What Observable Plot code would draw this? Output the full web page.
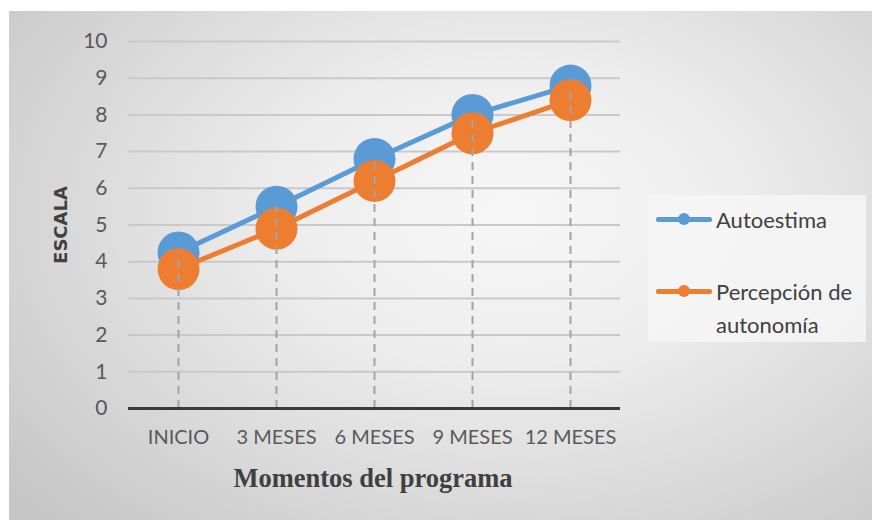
<!DOCTYPE html>
<html>
<head>
<meta charset="utf-8">
<script src="https://cdn.jsdelivr.net/npm/d3@7"></script>
<script src="https://cdn.jsdelivr.net/npm/@observablehq/plot@0.6"></script>
<style>
  html, body { margin: 0; padding: 0; background: #fff; }
  #wrap { position: relative; width: 872px; height: 520px; overflow: hidden; background: #fff; }
  #frame { position: absolute; left: 9px; top: 11px; width: 863px; height: 509px;
    background: radial-gradient(ellipse 75% 85% at 58% 40%, #f7f7f7 0%, #ededed 35%, #d8d8d8 70%, #c6c6c6 100%); }
  #chart { position: absolute; left: 0; top: 0; }
  #legend { position: absolute; left: 648px; top: 195px; width: 218px; height: 147px;
    background: rgba(246,246,246,0.85); font-family: Lato, "Open Sans", sans-serif; font-size: 22px; color: #404040; }
  .item { position: absolute; left: 8px; display: flex; align-items: flex-start; }
  .sw { position: relative; width: 56px; height: 20px; margin-right: 4px; }
  .sw .ln { position: absolute; left: 0; right: 0; top: 8px; height: 5px; border-radius: 2px; }
  .sw .dt { position: absolute; left: 22px; top: 4px; width: 12px; height: 12px; border-radius: 50%; }
  .lbl { line-height: 33px; margin-top: -6px; white-space: nowrap; }
  #ytitle { position: absolute; left: 60px; top: 225px; transform: translate(-50%,-50%) rotate(-90deg);
    font-family: "DejaVu Sans", sans-serif; font-weight: bold; font-size: 18px; color: #404040; white-space: nowrap; }
  #xtitle { position: absolute; left: 373px; top: 478px; transform: translate(-50%,-50%);
    font-family: "Liberation Serif", "DejaVu Serif", serif; font-weight: bold; font-size: 26.5px; color: #404040; white-space: nowrap; }
</style>
</head>
<body>
<div id="wrap">
  <div id="frame"></div>
  <div id="chart"></div>
  <div id="ytitle">ESCALA</div>
  <div id="xtitle">Momentos del programa</div>
  <div id="legend">
    <div class="item" style="top:14px"><div class="sw"><div class="ln" style="background:#5B9BD5"></div><div class="dt" style="background:#5B9BD5"></div></div><div class="lbl">Autoestima</div></div>
    <div class="item" style="top:86px"><div class="sw"><div class="ln" style="background:#ED7D31"></div><div class="dt" style="background:#ED7D31"></div></div><div class="lbl">Percepción de<br>autonomía</div></div>
  </div>
</div>
<script>
const categories = ["INICIO", "3 MESES", "6 MESES", "9 MESES", "12 MESES"];
const autoestima = [4.25, 5.5, 6.8, 8.0, 8.8];
const autonomia = [3.8, 4.9, 6.2, 7.5, 8.4];
const seriesNames = ["Autoestima", "Percepción de autonomía"];
const yTicks = [0, 1, 2, 3, 4, 5, 6, 7, 8, 9, 10];

const blue = "#5B9BD5", orange = "#ED7D31";
const rowsA = categories.map((c, i) => ({cat: c, v: autoestima[i], s: seriesNames[0]}));
const rowsB = categories.map((c, i) => ({cat: c, v: autonomia[i], s: seriesNames[1]}));
const drops = categories.map((c, i) => ({cat: c, top: Math.max(autoestima[i], autonomia[i])}));

const chart = Plot.plot({
  width: 872,
  height: 520,
  marginLeft: 128,
  marginRight: 252,
  marginTop: 41,
  marginBottom: 112,
  style: {background: "transparent", fontFamily: "Lato, 'Open Sans', sans-serif", fontSize: "20px", color: "#595959"},
  x: {type: "band", domain: categories, padding: 0, label: null},
  y: {domain: [0, 10], label: null},
  marks: [
    Plot.ruleY(yTicks.filter(t => t > 0), {stroke: "#c9c9c9", strokeWidth: 2}),
    Plot.axisY({ticks: yTicks, tickSize: 0, tickPadding: 21, label: null, fontSize: 21, fill: "#595959"}),
    Plot.axisX({tickSize: 0, tickPadding: 21, label: null, fontSize: 20, fill: "#595959"}),
    Plot.line(rowsA, {x: "cat", y: "v", stroke: blue, strokeWidth: 5}),
    Plot.dot(rowsA, {x: "cat", y: "v", r: 21, fill: blue}),
    Plot.line(rowsB, {x: "cat", y: "v", stroke: orange, strokeWidth: 5}),
    Plot.dot(rowsB, {x: "cat", y: "v", r: 21, fill: orange}),
    Plot.ruleX(drops, {x: "cat", y1: 0, y2: "top", stroke: "#a3a3a3", strokeWidth: 2, strokeDasharray: "8,6"}),
    Plot.ruleY([0], {stroke: "#3a3a3a", strokeWidth: 3})
  ]
});
document.getElementById("chart").appendChild(chart);
</script>
</body>
</html>
